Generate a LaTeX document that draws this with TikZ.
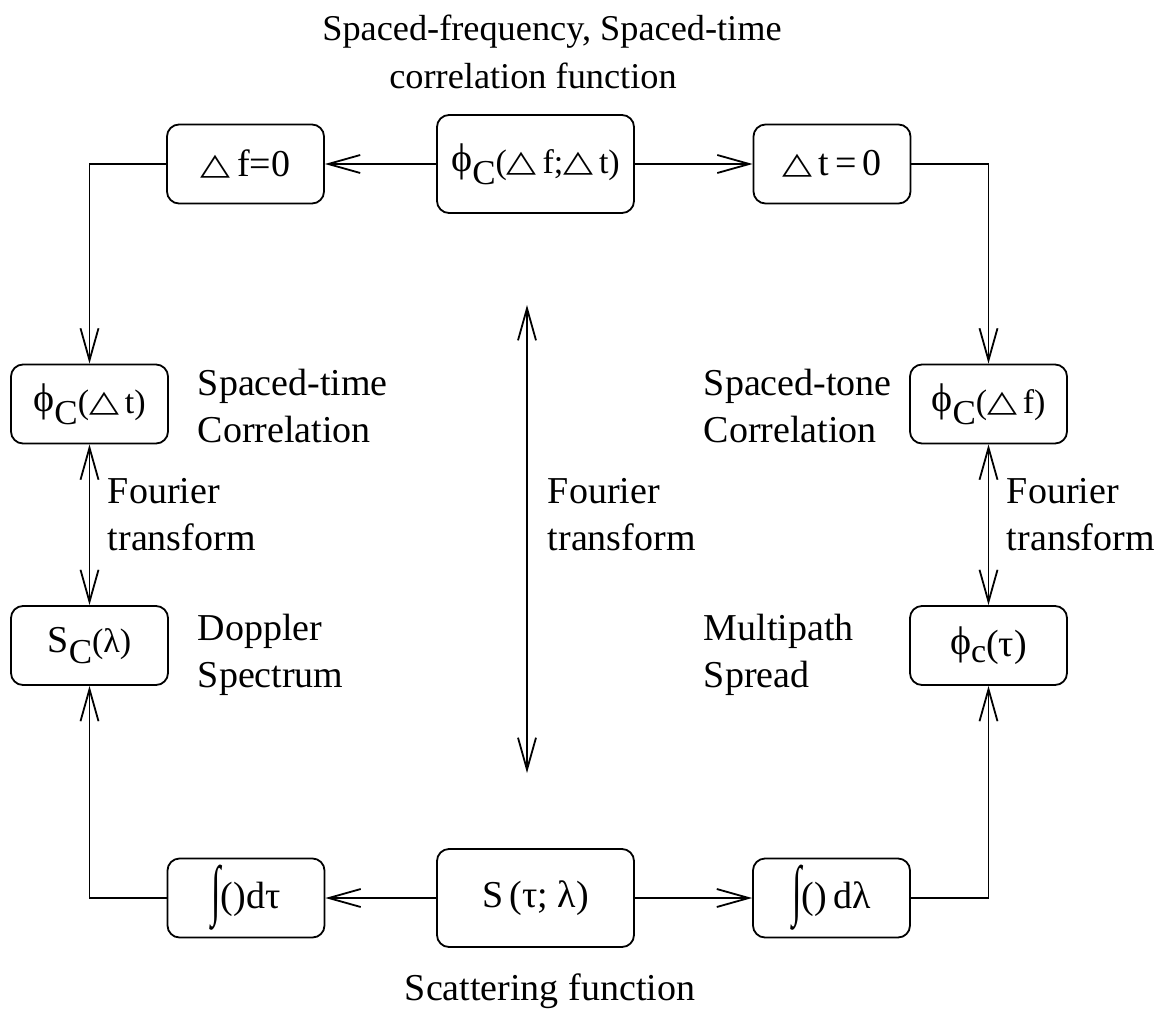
\documentclass[tikz,border=0pt]{standalone}
\usepackage{fontspec}
\usepackage{graphicx}
\setmainfont{Liberation Serif}
\newfontfamily\symfont{DejaVu Sans}
\usetikzlibrary{arrows.meta}

% small delta, phi, lowered subscript, reduced-size argument, tall integral sign
\newcommand\tri{\raisebox{2pt}{\scalebox{1.3}[1]{\symfont\fontsize{30}{30}\selectfont △}}}
\newcommand\bphi{\raisebox{2pt}{\fontsize{40}{40}\selectfont ϕ}}
\newcommand\lowsub[1]{\raisebox{-11pt}{\fontsize{35}{35}\selectfont #1}}
\newcommand\argsz[1]{{\fontsize{34}{34}\selectfont #1}}
\newcommand\intg{\raisebox{-4pt}{\scalebox{0.9}[1.75]{∫}}}

\tikzset{
  box/.style={draw, rounded corners=12pt, inner sep=0pt,
              minimum width=157pt, minimum height=79pt},
  bigbox/.style={box, minimum width=197pt, minimum height=98pt},
  lbl/.style={anchor=base west, inner sep=0pt},
  ctr/.style={anchor=base, inner sep=0pt},
  ttl/.style={ctr, font=\fontsize{36.3}{44}\selectfont},
  arr/.style={-{Straight Barb[length=32pt,width=18pt]}},
  dbl/.style={{Straight Barb[length=32pt,width=18pt]}-{Straight Barb[length=32pt,width=18pt]}}
}

\begin{document}
\begin{tikzpicture}[x=1pt, y=-1pt, line width=1.8pt,
                    font=\fontsize{38}{45}\selectfont]
\useasboundingbox (0,0) rectangle (1170,1015);

% boxes
\node[box]    (A)  at (245.5,164) {\tri\,f=0};
\node[bigbox] (B)  at (535.5,164) {\bphi\lowsub{C}\argsz{(\tri\,f;\tri\,t)}};
\node[box]    (Cc) at (832,164)   {\tri\,t\,=\,0};
\node[box]    (D)  at (89.5,404)  {\bphi\lowsub{C}\argsz{(\tri\,t)}};
\node[box]    (E)  at (89.5,645.5){S\lowsub{C}\argsz{(λ)}};
\node[box]    (F)  at (988.5,404) {\bphi\lowsub{C}\argsz{(\tri\,f)}};
\node[box]    (G)  at (988.5,645.5){\bphi\raisebox{-6pt}{\argsz{c}}(τ)};
\node[box]    (H)  at (246,898)   {\intg()dτ};
\node[bigbox] (I)  at (535.5,898) {S\,(τ; λ)};
\node[box]    (J)  at (831.5,898) {\intg()\,dλ};

% connectors
\draw[arr] (B.west) -- (A.east);
\draw[arr] (B.east) -- (Cc.west);
\draw[arr] (A.west) -| (D.north);
\draw[arr] (Cc.east) -| (F.north);
\draw[dbl] (D.south) -- (E.north);
\draw[dbl] (F.south) -- (G.north);
\draw[arr] (I.west) -- (H.east);
\draw[arr] (I.east) -- (J.west);
\draw[arr] (H.west) -| (E.south);
\draw[arr] (J.east) -| (G.south);
\coordinate (ct) at (527,305);
\coordinate (cb) at (527,773);
\draw[dbl] (ct) -- (cb);

% labels
\node[ttl] (t1) at (552,40) {Spaced-frequency, Spaced-time};
\node[ttl] (t2) at (533,88) {correlation function};
\node[lbl] (lst1) at (197,395) {Spaced-time};
\node[lbl] (lst2) at (197,442) {Correlation};
\node[lbl] (lf1) at (107,503) {Fourier};
\node[lbl] (lf2) at (107,550) {transform};
\node[lbl] (ld1) at (197,640) {Doppler};
\node[lbl] (ld2) at (197,687) {Spectrum};
\node[lbl] (cf1) at (547,503) {Fourier};
\node[lbl] (cf2) at (547,550) {transform};
\node[lbl] (rst1) at (703,395) {Spaced-tone};
\node[lbl] (rst2) at (703,442) {Correlation};
\node[lbl] (rf1) at (1006,503) {Fourier};
\node[lbl] (rf2) at (1006,550) {transform};
\node[lbl] (rm1) at (703,640) {Multipath};
\node[lbl] (rm2) at (703,687) {Spread};
\node[ctr] (sc) at (550,1000) {Scattering function};
\end{tikzpicture}
\end{document}
